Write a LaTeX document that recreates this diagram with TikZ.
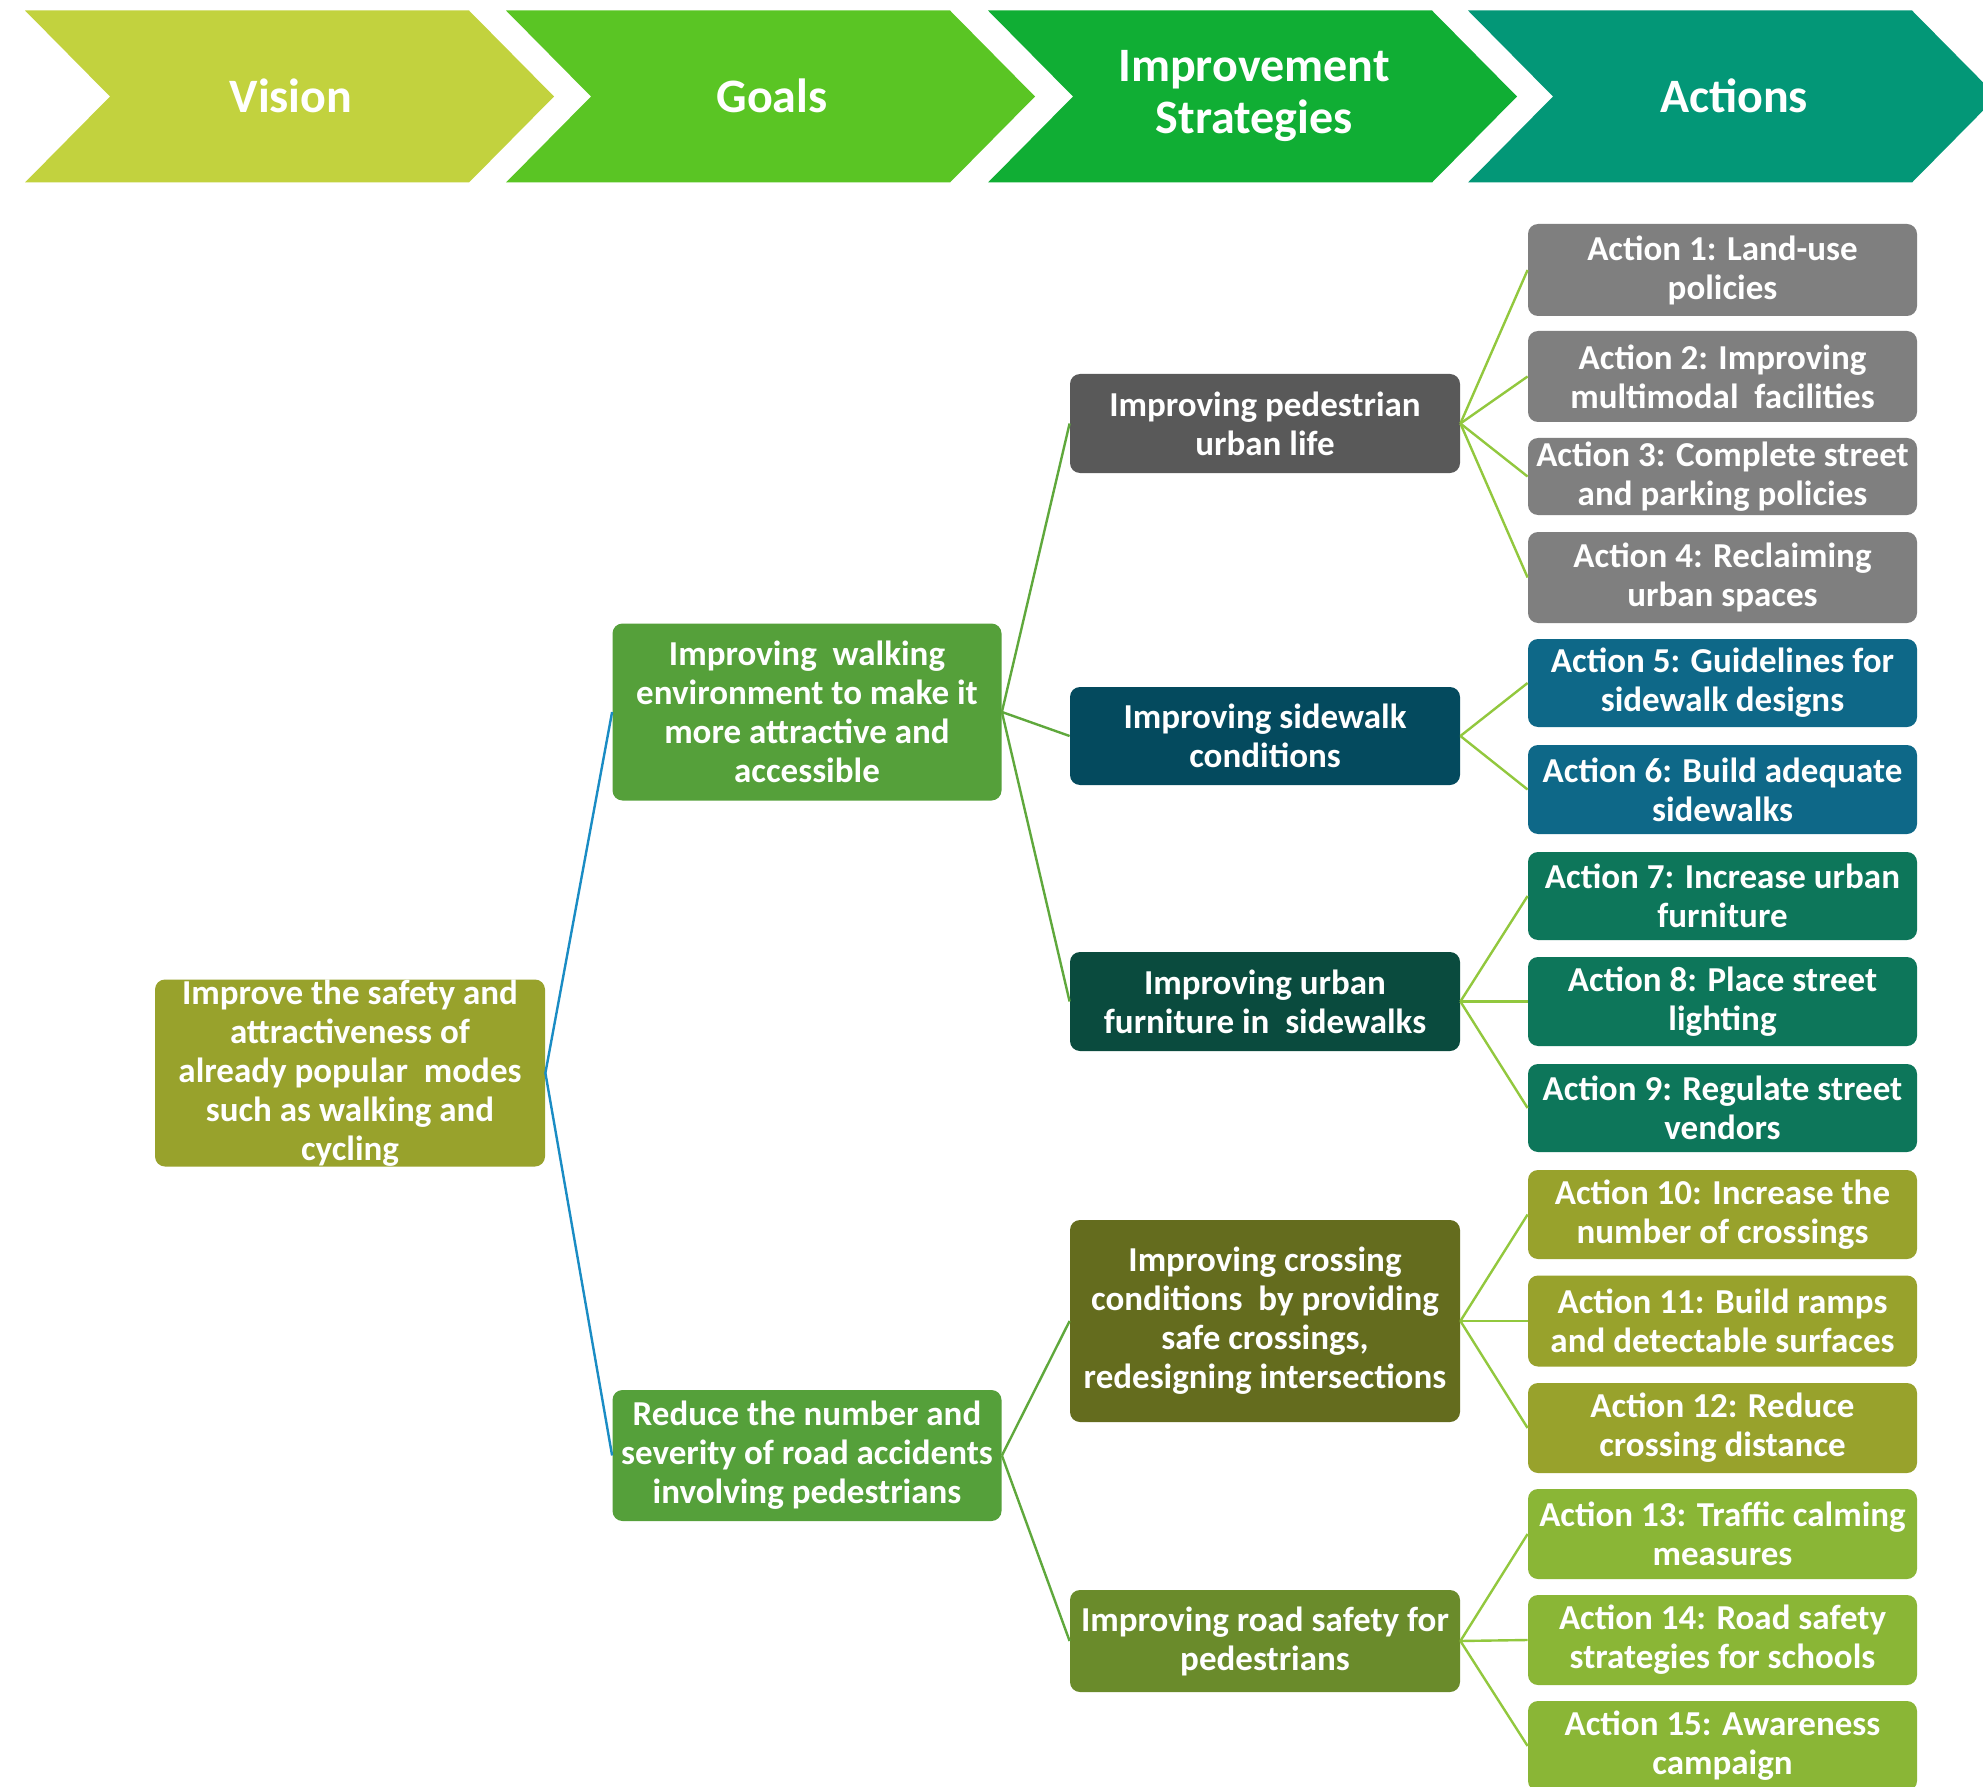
\documentclass[tikz,border=0pt]{standalone}
\usepackage{fontspec}
\setmainfont{Carlito}
\definecolor{hVision}{HTML}{C2D23E}
\definecolor{hGoals}{HTML}{5AC524}
\definecolor{hStrat}{HTML}{10AE34}
\definecolor{hAct}{HTML}{039777}
\definecolor{cVision}{HTML}{98A22C}
\definecolor{cGoal}{HTML}{55A03A}
\definecolor{cSa}{HTML}{595959}
\definecolor{cSb}{HTML}{044A5E}
\definecolor{cSc}{HTML}{0A4B3E}
\definecolor{cSd}{HTML}{646C1E}
\definecolor{cSe}{HTML}{6A8B2B}
\definecolor{aGray}{HTML}{7F7F7F}
\definecolor{aBlue}{HTML}{0E6888}
\definecolor{aTeal}{HTML}{0D765A}
\definecolor{aOlive}{HTML}{98A22C}
\definecolor{aGreen}{HTML}{8AB636}
\definecolor{lBlue}{HTML}{1A8CC4}
\definecolor{lGreen}{HTML}{5FA83C}
\definecolor{lLime}{HTML}{92C83E}
\tikzset{
  boxtext/.style={text=white, align=center, inner sep=0pt,
    font=\fontsize{17.5}{19.5}\selectfont\bfseries},
  panel/.style={boxtext, rounded corners=5pt, minimum width=194.5pt},
  hdrtext/.style={text=white, align=center, inner sep=0pt,
    font=\fontsize{24}{26}\selectfont\bfseries},
  vline/.style={draw=lBlue, line width=1.2pt},
  gline/.style={draw=lGreen, line width=1.2pt},
  aline/.style={draw=lLime, line width=1.2pt},
}
\begin{document}
\begin{tikzpicture}[x=0.5pt,y=-0.5pt]
\clip (0,0) rectangle (1983,1787);
\fill[white] (0,0) rectangle (1983,1787);

% header chevrons
\foreach \x/\c/\n/\t in {25/hVision/hv/Vision, 506/hGoals/hg/Goals,
    988/hStrat/hs/{Improvement\\Strategies}, 1468/hAct/ha/Actions}{
  \fill[\c] (\x,10.5) -- ++(444,0) -- ++(85,86) -- ++(-85,86) -- ++(-444,0)
    -- ++(85,-86) -- cycle;
  \node[hdrtext] (\n) at (\x+266,96) {\t};
}

% vision
\node[panel, fill=cVision, minimum width=195pt, minimum height=93.5pt] (vis) at (350,1073) {};
\node[boxtext] (vis-t) at (vis) {Improve the safety and\\attractiveness of\\already popular~ modes\\such as walking and\\cycling};

% goals
\node[panel, fill=cGoal, minimum height=88.5pt] (g1) at (807,712)
  {Improving~ walking\\environment to make it\\more attractive and\\accessible};
\node[panel, fill=cGoal, minimum height=65.5pt] (g2) at (807,1455.5)
  {Reduce the number and\\severity of road accidents\\involving pedestrians};

% improvement strategies
\node[panel, fill=cSa, minimum width=195pt, minimum height=49.5pt] (s1) at (1265,423.5)
  {Improving pedestrian\\urban life};
\node[panel, fill=cSb, minimum width=195pt, minimum height=49pt] (s2) at (1265,736)
  {Improving sidewalk\\conditions};
\node[panel, fill=cSc, minimum width=195pt, minimum height=49.5pt] (s3) at (1265,1001.5)
  {Improving urban\\furniture in~ sidewalks};
\node[panel, fill=cSd, minimum width=195pt, minimum height=101pt] (s4) at (1265,1321)
  {Improving crossing\\conditions~ by providing\\safe crossings,\\redesigning intersections};
\node[panel, fill=cSe, minimum width=195pt, minimum height=51pt] (s5) at (1265,1641)
  {Improving road safety for\\pedestrians};

% actions
\node[panel, fill=aGray, minimum height=46pt] (a1) at (1722.5,270) {Action 1: Land-use\\policies};
\node[panel, fill=aGray, minimum height=45.5pt] (a2) at (1722.5,376.5) {Action 2: Improving\\multimodal~ facilities};
\node[panel, fill=aGray, minimum height=38.5pt] (a3) at (1722.5,476.5) {Action 3: Complete street\\and parking policies};
\node[panel, fill=aGray, minimum height=45.5pt] (a4) at (1722.5,577.5) {Action 4: Reclaiming\\urban spaces};
\node[panel, fill=aBlue, minimum height=44pt] (a5) at (1722.5,683) {Action 5: Guidelines for\\sidewalk designs};
\node[panel, fill=aBlue, minimum height=44.5pt] (a6) at (1722.5,789.5) {Action 6: Build adequate\\sidewalks};
\node[panel, fill=aTeal, minimum height=44pt] (a7) at (1722.5,896) {Action 7: Increase urban\\furniture};
\node[panel, fill=aTeal, minimum height=44.5pt] (a8) at (1722.5,1001.5) {Action 8: Place street\\lighting};
\node[panel, fill=aTeal, minimum height=44pt] (a9) at (1722.5,1108) {Action 9: Regulate street\\vendors};
\node[panel, fill=aOlive, minimum height=44.5pt] (a10) at (1722.5,1214.5) {Action 10: Increase the\\number of crossings};
\node[panel, fill=aOlive, minimum height=45.5pt] (a11) at (1722.5,1321) {Action 11: Build ramps\\and detectable surfaces};
\node[panel, fill=aOlive, minimum height=45pt] (a12) at (1722.5,1428) {Action 12: Reduce\\crossing distance};
\node[panel, fill=aGreen, minimum height=45pt] (a13) at (1722.5,1534) {Action 13: Traffic calming\\measures};
\node[panel, fill=aGreen, minimum height=45pt] (a14) at (1722.5,1640) {Action 14: Road safety\\strategies for schools};
\node[panel, fill=aGreen, minimum height=45pt] (a15) at (1722.5,1746) {Action 15: Awareness\\campaign};

% connectors
\draw[vline] (vis.east) -- (g1.west);
\draw[vline] (vis.east) -- (g2.west);
\foreach \s in {s1,s2,s3} \draw[gline] (g1.east) -- (\s.west);
\foreach \s in {s4,s5} \draw[gline] (g2.east) -- (\s.west);
\foreach \a in {a1,a2,a3,a4} \draw[aline] (s1.east) -- (\a.west);
\foreach \a in {a5,a6} \draw[aline] (s2.east) -- (\a.west);
\foreach \a in {a7,a8,a9} \draw[aline] (s3.east) -- (\a.west);
\foreach \a in {a10,a11,a12} \draw[aline] (s4.east) -- (\a.west);
\foreach \a in {a13,a14,a15} \draw[aline] (s5.east) -- (\a.west);
\end{tikzpicture}
\end{document}
